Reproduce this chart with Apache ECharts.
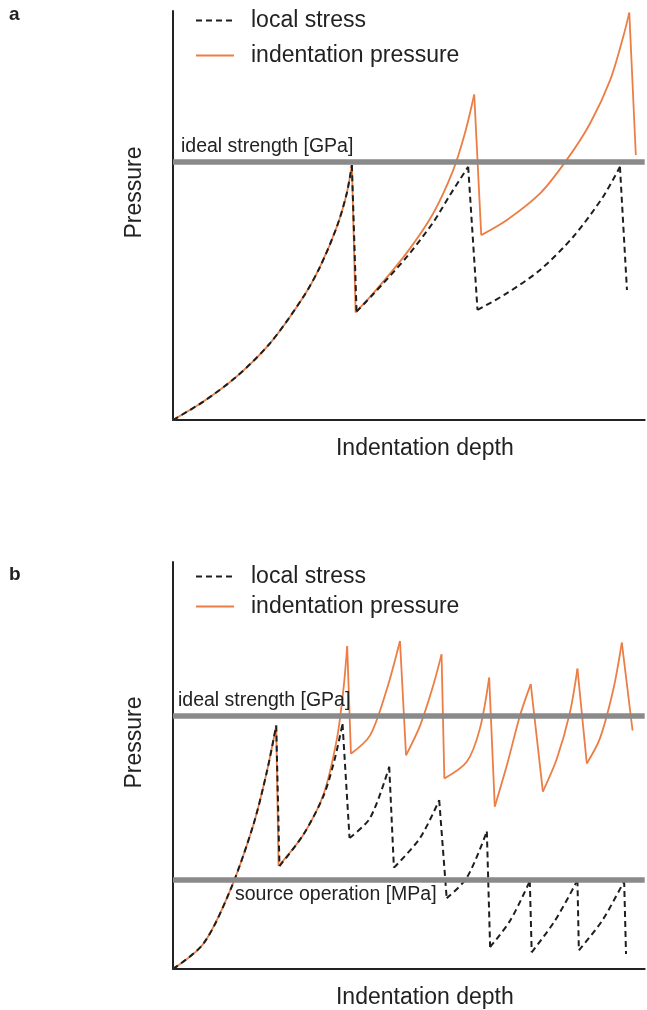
<!DOCTYPE html>
<html>
<head>
<meta charset="utf-8">
<script src="https://cdn.jsdelivr.net/npm/echarts@6/dist/echarts.min.js"></script>
<style>
  html, body { margin: 0; padding: 0; background: #fff; }
  #chart { width: 647px; height: 1010px; }
</style>
</head>
<body>
<div id="chart"></div>
<script>
// ---- data (normalised units: depth 0-101, pressure 0-100) ----
const panelLabels = ['a', 'b'];
const legendNames = ['local stress', 'indentation pressure'];
const xAxisName = 'Indentation depth';
const yAxisName = 'Pressure';

const idealStrengthLabel = 'ideal strength [GPa]';
const sourceOperationLabel = 'source operation [MPa]';
const idealStrengthA = 63.2;
const idealStrengthB = 62.3;
const sourceOperationB = 22.0;

// panel a
const pressureA = [
  [0,0],[6.5,4.5],[13.6,10.6],[20.8,18.8],[27.9,30.1],[31.5,37.5],[35.1,47.3],[37.2,55.4],[38.3,62.3],
  [39.1,26.3],[42.9,31.0],[50.0,40.8],[55.7,50.5],[60.0,61.1],[62.5,70.1],[64.5,79.6],
  [66.0,45.2],[71.5,48.9],[78.6,55.4],[84.3,63.6],[89.3,72.5],[93.6,83.1],[96.4,93.7],[97.7,99.6],
  [99.1,64.8]
];
const stressA = [
  [0,0],[6.5,4.5],[13.6,10.6],[20.8,18.8],[27.9,30.1],[31.5,37.5],[35.1,47.3],[37.2,55.4],[38.3,62.3],
  [39.3,26.5],[42.9,30.8],[50.0,39.8],[55.7,48.3],[59.3,55.0],[63.2,61.9],
  [65.2,26.9],[71.5,31.0],[78.6,36.7],[85.7,44.8],[92.1,54.6],[95.7,61.9],
  [97.2,31.8]
];

// panel b
const pressureB = [
  [0,0],[6.5,6.2],[12.2,19.2],[17.2,35.4],[20.1,48.5],[22.1,59.8],
  [22.6,25.3],[27.9,33.0],[32.2,42.8],[35.1,56.6],[36.5,68.8],[37.3,79.3],
  [38.1,52.9],[42.2,57.4],[45.8,68.8],[48.6,80.6],
  [49.9,52.5],[52.9,59.8],[55.7,69.6],[57.5,77.3],
  [58.1,46.8],[62.9,50.9],[65.7,59.0],[67.7,71.6],
  [68.9,39.9],[71.5,50.1],[74.3,62.3],[76.6,70.0],
  [79.2,43.6],[82.2,51.7],[85.0,63.1],[86.6,73.8],
  [88.6,50.5],[91.4,56.6],[94.3,68.8],[96.1,80.2],
  [98.4,58.6]
];
const stressB = [
  [0,0],[6.5,6.2],[12.2,19.2],[17.2,35.4],[20.1,48.5],[22.1,59.8],
  [22.8,25.3],[27.9,33.0],[32.2,42.5],[34.5,51.0],[36.3,60.2],
  [37.8,32.2],[42.2,37.1],[46.3,49.7],
  [47.3,24.9],[52.9,32.2],[57.0,41.5],
  [58.6,17.4],[62.9,22.4],[67.2,33.8],
  [67.9,5.4],[72.2,11.9],[76.4,21.6],
  [76.8,4.1],[81.8,11.9],[86.6,21.8],
  [86.9,4.6],[91.9,11.9],[96.6,21.6],
  [97.0,3.7]
];

// ---- styling ----
const FONT = '"Liberation Sans", Arial, Helvetica, sans-serif';
const TXT = '#222';
const ORANGE = '#EC7E45';
const GREY = '#8a8a8a';
const DARK = '#1e1e1e';

// split a sawtooth into its rising flanks (drawn smooth) and its sudden drops (drawn straight),
// separated by gaps so that the smoothing never rounds a peak.
function splitSaw(pts) {
  const rises = [pts[0]];
  const drops = [];
  for (let i = 1; i < pts.length; i++) {
    const prev = pts[i - 1], p = pts[i];
    if (p[1] >= prev[1]) {
      rises.push(p);
    } else {
      rises.push([prev[0], null]);
      rises.push(p);
      drops.push(prev, p, [p[0], null]);
    }
  }
  return { rises, drops };
}

const grids = [
  { left: 173, width: 471.7, top: 11, height: 409 },
  { left: 173, width: 471.7, top: 562, height: 410 }
];

function xAx(i) {
  return {
    type: 'value', gridIndex: i, min: 0, max: 101,
    name: xAxisName, nameLocation: 'middle', nameGap: 17,
    nameTextStyle: { fontFamily: FONT, fontSize: 23, color: TXT, verticalAlign: 'top', padding: [0, 0, 0, 32] },
    axisLine: { lineStyle: { color: TXT, width: 2 } },
    axisTick: { show: false }, axisLabel: { show: false }, splitLine: { show: false }
  };
}
function yAx(i) {
  return {
    type: 'value', gridIndex: i, min: 0, max: 100,
    name: yAxisName, nameLocation: 'middle', nameGap: 27, nameRotate: 90,
    nameTextStyle: { fontFamily: FONT, fontSize: 23, color: TXT, padding: [0, 0, 0, 46] },
    axisLine: { show: true, onZero: false, lineStyle: { color: TXT, width: 2 } },
    axisTick: { show: false }, axisLabel: { show: false }, splitLine: { show: false }
  };
}

function thresholdLine(value, text, pos, dist) {
  return {
    yAxis: value,
    label: {
      show: true, formatter: text, position: pos, distance: dist,
      fontFamily: FONT, fontSize: 19.5, color: TXT
    }
  };
}

function holder(i, lines) {
  return {
    type: 'line', xAxisIndex: i, yAxisIndex: i, data: [], z: 1, silent: true,
    markLine: {
      silent: true, symbol: ['none', 'none'], animation: false,
      lineStyle: { color: GREY, width: 5.5, type: 'solid' },
      data: lines
    }
  };
}

function sawSeries(i, data, name, lineStyle, z) {
  const parts = splitSaw(data);
  const base = {
    name: name, type: 'line', xAxisIndex: i, yAxisIndex: i,
    showSymbol: false, symbol: 'none', z: z, animation: false, connectNulls: false,
    lineStyle: lineStyle, itemStyle: { color: lineStyle.color }
  };
  return [
    Object.assign({}, base, { data: parts.rises, smooth: 0.3 }),
    Object.assign({}, base, { data: parts.drops, smooth: false })
  ];
}

const pressureStyle = { color: ORANGE, width: 1.8 };
const stressStyle = { color: DARK, width: 2, type: [6, 4] };

function legend(top, gap) {
  return {
    orient: 'vertical', left: 195, top: top, itemGap: gap, padding: 0,
    itemWidth: 38, itemHeight: 14,
    selectedMode: false,
    itemStyle: { opacity: 0 },
    data: legendNames,
    textStyle: { fontFamily: FONT, fontSize: 23, color: TXT, lineHeight: 23, padding: [0, 0, 0, 12] }
  };
}

const option = {
  backgroundColor: '#fff',
  animation: false,
  title: [
    { text: panelLabels[0], left: 7, top: 3, padding: 2, textStyle: { fontFamily: FONT, fontSize: 19, fontWeight: 'bold', color: TXT } },
    { text: panelLabels[1], left: 7, top: 563, padding: 2, textStyle: { fontFamily: FONT, fontSize: 19, fontWeight: 'bold', color: TXT } }
  ],
  legend: [legend(9, 12), legend(565, 7)],
  grid: grids,
  xAxis: [xAx(0), xAx(1)],
  yAxis: [yAx(0), yAx(1)],
  series: [
    holder(0, [thresholdLine(idealStrengthA, idealStrengthLabel, 'insideStartTop', [8, 5])]),
    holder(1, [
      thresholdLine(idealStrengthB, idealStrengthLabel, 'insideStartTop', [5, 5]),
      thresholdLine(sourceOperationB, sourceOperationLabel, 'insideStartBottom', [62, 5])
    ]),
    ...sawSeries(0, pressureA, legendNames[1], pressureStyle, 3),
    ...sawSeries(0, stressA, legendNames[0], stressStyle, 4),
    ...sawSeries(1, pressureB, legendNames[1], pressureStyle, 3),
    ...sawSeries(1, stressB, legendNames[0], stressStyle, 4)
  ]
};

const chart = echarts.init(document.getElementById('chart'), null, { renderer: 'canvas' });
chart.setOption(option);
</script>
</body>
</html>
